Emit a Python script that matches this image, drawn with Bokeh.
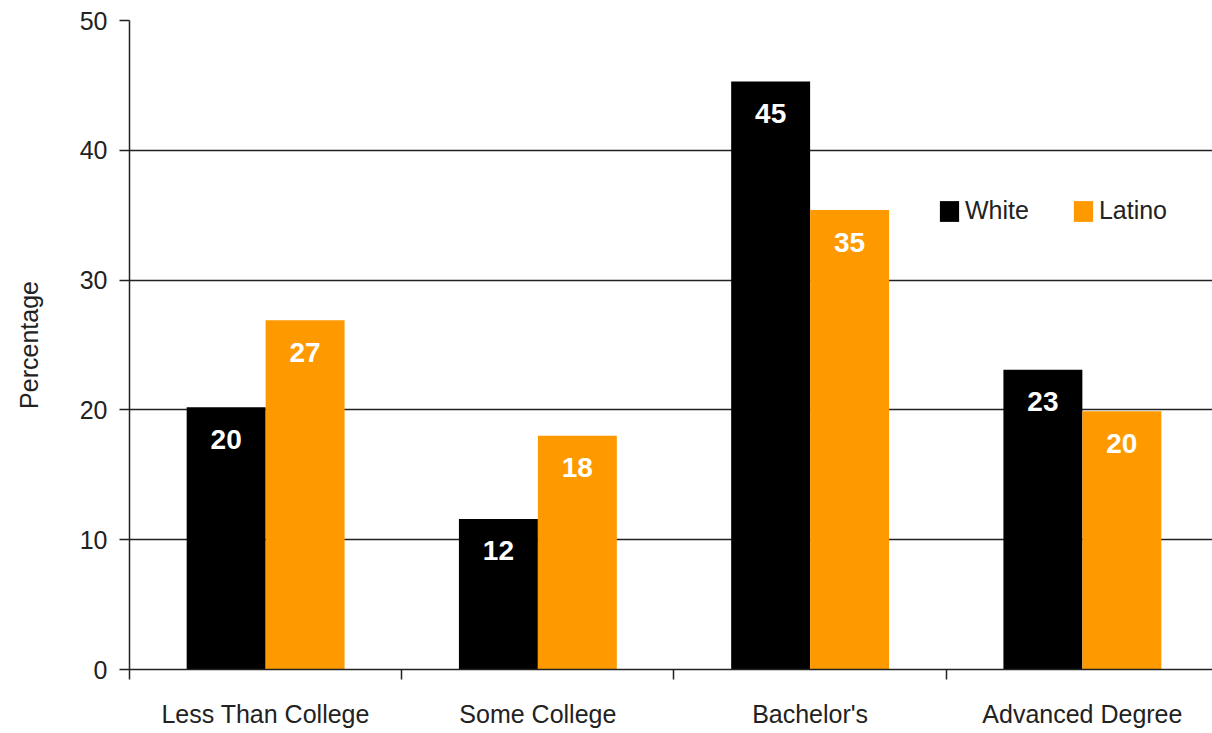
from bokeh.plotting import figure
from bokeh.models import Range1d, FixedTicker, ColumnDataSource, Legend, LegendItem, CustomJSTickFormatter
from bokeh.transform import dodge
from bokeh.core.properties import value
from bokeh.embed import file_html
from bokeh.resources import INLINE

categories = ["Less Than College", "Some College", "Bachelor's", "Advanced Degree"]
white = [20.2, 11.6, 45.3, 23.1]
latino = [26.9, 18.0, 35.4, 19.9]
y_ticks = [0, 10, 20, 30, 40, 50]
series_names = ["White", "Latino"]
colors = ["#000000", "#FF9900"]

FONT = "Liberation Sans"
FS = "25px"

centers = [i + 0.5 for i in range(len(categories))]
src = ColumnDataSource(dict(
    x=centers, cat=categories, white=white, latino=latino,
    white_lbl=[str(round(v)) for v in white],
    latino_lbl=[str(round(v)) for v in latino],
))

p = figure(frame_width=1083, frame_height=649, output_backend="svg", toolbar_location=None,
           x_range=Range1d(0, 3.978), y_range=Range1d(0, 50),
           min_border_left=129, min_border_right=0, min_border_top=20, min_border_bottom=64,
           background_fill_color="white", border_fill_color="white")
p.outline_line_color = None
p.xgrid.visible = False
p.ygrid.grid_line_color = "#222222"
p.ygrid.grid_line_width = 1.5
p.ygrid.ticker = FixedTicker(ticks=y_ticks)

bw = 0.29
r_w = p.vbar(x=dodge("x", -0.145, range=p.x_range), top="white", width=bw, bottom=0,
             source=src, fill_color=colors[0], line_color=None)
r_l = p.vbar(x=dodge("x", 0.145, range=p.x_range), top="latino", width=bw, bottom=0,
             source=src, fill_color=colors[1], line_color=None)

for col, lbl, off in (("white", "white_lbl", -0.145), ("latino", "latino_lbl", 0.145)):
    p.text(x=dodge("x", off, range=p.x_range), y=col, text=lbl, source=src,
           y_offset=32, text_align="center", text_baseline="middle",
           text_color="white", text_font=value(FONT), text_font_style="bold",
           text_font_size="28px")

# y axis
ya = p.yaxis[0]
ya.ticker = FixedTicker(ticks=y_ticks)
ya.axis_line_color = "#222222"
ya.axis_line_width = 1.5
ya.major_tick_line_color = "#222222"
ya.major_tick_line_width = 1.5
ya.major_tick_out = 10
ya.major_tick_in = 0
ya.minor_tick_line_color = None
ya.major_label_standoff = 12
ya.major_label_text_font = FONT
ya.major_label_text_font_size = FS
ya.major_label_text_color = "#222222"
ya.axis_label = "Percentage"
ya.axis_label_text_font = FONT
ya.axis_label_text_font_size = FS
ya.axis_label_text_font_style = "normal"
ya.axis_label_text_color = "#222222"
ya.axis_label_standoff = 34

# x axis
xa = p.xaxis[0]
xa.ticker = FixedTicker(ticks=centers, minor_ticks=[0, 1, 2, 3, 4])
xa.formatter = CustomJSTickFormatter(args=dict(labels=categories),
                                     code="return labels[Math.floor(tick)];")
xa.axis_line_color = "#222222"
xa.axis_line_width = 1.5
xa.major_tick_out = 0
xa.major_tick_in = 0
xa.major_tick_line_color = None
xa.minor_tick_line_color = "#222222"
xa.minor_tick_line_width = 1.5
xa.minor_tick_out = 10
xa.minor_tick_in = 0
xa.major_label_standoff = 20
xa.major_label_text_font = FONT
xa.major_label_text_font_size = FS
xa.major_label_text_color = "#222222"

legend = Legend(items=[LegendItem(label=series_names[0], renderers=[r_w]),
                       LegendItem(label=series_names[1], renderers=[r_l])],
                orientation="horizontal", location=(808, 444),
                padding=0, margin=0, spacing=42, border_line_color=None,
                background_fill_alpha=0, glyph_width=24, glyph_height=26,
                label_standoff=4, label_text_font=FONT, label_text_font_size=FS,
                label_text_color="#222222", label_height=26)
p.add_layout(legend)

open("out.html", "w").write(file_html(p, INLINE))
